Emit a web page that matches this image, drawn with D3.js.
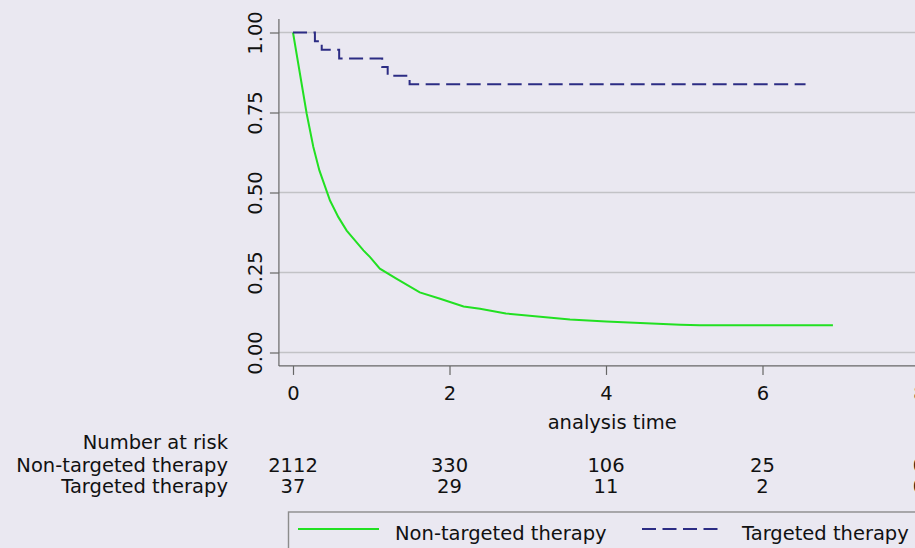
<!DOCTYPE html>
<html>
<head>
<meta charset="utf-8">
<script src="https://cdn.jsdelivr.net/npm/d3@7"></script>
<style>
  html, body { margin: 0; padding: 0; background: #eae8f1; }
  svg { display: block; font-family: "DejaVu Sans", sans-serif; }
</style>
</head>
<body>
<svg id="chart" width="915" height="548"></svg>
<script>
"use strict";

// Kaplan-Meier estimates
var nonTargetedTime = [0, 0.175, 0.26, 0.337, 0.473, 0.58, 0.686, 0.90, 0.985, 1.11, 1.326, 1.62, 1.88, 2.18, 2.39, 2.72, 3.54, 4.0, 4.95, 5.2, 6.9];
var nonTargetedSurv = [1, 0.746, 0.642, 0.569, 0.475, 0.423, 0.381, 0.319, 0.298, 0.262, 0.230, 0.188, 0.168, 0.144, 0.137, 0.122, 0.103, 0.097, 0.087, 0.085, 0.085];

var targetedTime = [0, 0.28, 0.367, 0.59, 1.14, 1.21, 1.49, 6.55];
var targetedSurv = [1, 0.973, 0.946, 0.919, 0.892, 0.865, 0.838, 0.838];

var xTicks = [0, 2, 4, 6, 8];
var yTicks = [0, 0.25, 0.5, 0.75, 1];
var groups = ["Non-targeted therapy", "Targeted therapy"];
var atRiskNon = [2112, 330, 106, 25, 0];
var atRiskTar = [37, 29, 11, 2, 0];

var green = "#22e022", navy = "#2c2c84";

var svg = d3.select("#chart");
var x = d3.scaleLinear().domain([0, 8]).range([293, 919]);
var y = d3.scaleLinear().domain([0, 1]).range([352.5, 32.5]);
var xLeft = x(-0.18), yBottom = y(-0.042), yTop = y(1.042);

// gridlines
svg.append("g").selectAll("line").data(yTicks).join("line")
	.attr("x1", xLeft).attr("x2", 915)
	.attr("y1", function(d) { return y(d); }).attr("y2", function(d) { return y(d); })
	.attr("stroke", "#c2c2c6").attr("stroke-width", 1.4);

// y axis
var gy = svg.append("g").attr("transform", "translate(" + xLeft + ",0)")
	.call(d3.axisLeft(y).tickValues(yTicks).tickFormat(d3.format(".2f")).tickSize(9).tickSizeOuter(0));
gy.select(".domain").remove();
gy.selectAll(".tick line").attr("stroke", "#666").attr("stroke-width", 1.2);
gy.selectAll(".tick text")
	.attr("transform", "rotate(-90)")
	.attr("x", 0).attr("y", -17).attr("dy", 0)
	.attr("text-anchor", "middle")
	.attr("font-size", 19.5).attr("font-family", "DejaVu Sans").attr("fill", "#111");
svg.append("line").attr("x1", xLeft).attr("x2", xLeft).attr("y1", yTop).attr("y2", yBottom)
	.attr("stroke", "#666").attr("stroke-width", 1.2);

// x axis
var gx = svg.append("g").attr("transform", "translate(0," + yBottom + ")")
	.call(d3.axisBottom(x).tickValues(xTicks).tickFormat(d3.format("d")).tickSize(9).tickSizeOuter(0));
gx.select(".domain").remove();
gx.selectAll(".tick line").attr("stroke", "#666").attr("stroke-width", 1.2);
gx.selectAll(".tick text")
	.attr("y", 34).attr("dy", 0)
	.attr("font-size", 19.5).attr("font-family", "DejaVu Sans").attr("fill", "#111");
svg.append("line").attr("x1", xLeft).attr("x2", 915).attr("y1", yBottom).attr("y2", yBottom)
	.attr("stroke", "#666").attr("stroke-width", 1.2);

svg.append("text").attr("x", x(4.08)).attr("y", 429).attr("text-anchor", "middle")
	.attr("font-size", 19.5).attr("fill", "#111").text("analysis time");

// survival curves
var nonLine = d3.line().curve(d3.curveLinear)
	.x(function(d, i) { return x(nonTargetedTime[i]); })
	.y(function(d) { return y(d); });
var tarLine = d3.line().curve(d3.curveStepAfter)
	.x(function(d, i) { return x(targetedTime[i]); })
	.y(function(d) { return y(d); });

svg.append("path").attr("d", nonLine(nonTargetedSurv))
	.attr("fill", "none").attr("stroke", green).attr("stroke-width", 2);
svg.append("path").attr("d", tarLine(targetedSurv))
	.attr("fill", "none").attr("stroke", navy).attr("stroke-width", 2)
	.attr("stroke-dasharray", "14,6.5");

// number at risk table
var tbl = svg.append("g").attr("font-size", 19.5).attr("fill", "#111");
tbl.append("text").attr("x", 228).attr("y", 449).attr("text-anchor", "end").text("Number at risk");
[atRiskNon, atRiskTar].forEach(function(row, r) {
	var yy = 472 + r * 20.5;
	tbl.append("text").attr("x", 228).attr("y", yy).attr("text-anchor", "end").text(groups[r]);
	tbl.selectAll(null).data(row).join("text")
		.attr("x", function(d, i) { return x(xTicks[i]); })
		.attr("y", yy).attr("text-anchor", "middle")
		.text(function(d) { return d; });
});

// legend
var lg = svg.append("g");
lg.append("rect").attr("x", 288.5).attr("y", 512).attr("width", 700).attr("height", 60)
	.attr("fill", "#eae8f1").attr("stroke", "#8c8c8c").attr("stroke-width", 1.4);
lg.append("line").attr("x1", 298).attr("x2", 379).attr("y1", 529).attr("y2", 529)
	.attr("stroke", green).attr("stroke-width", 2);
lg.append("text").attr("x", 395).attr("y", 540).attr("font-size", 19.5).attr("fill", "#111").text(groups[0]);
lg.append("line").attr("x1", 642).attr("x2", 721).attr("y1", 529).attr("y2", 529)
	.attr("stroke", navy).attr("stroke-width", 2).attr("stroke-dasharray", "14,6.5");
lg.append("text").attr("x", 742).attr("y", 540).attr("font-size", 19.5).attr("fill", "#111").text(groups[1]);
</script>
</body>
</html>
